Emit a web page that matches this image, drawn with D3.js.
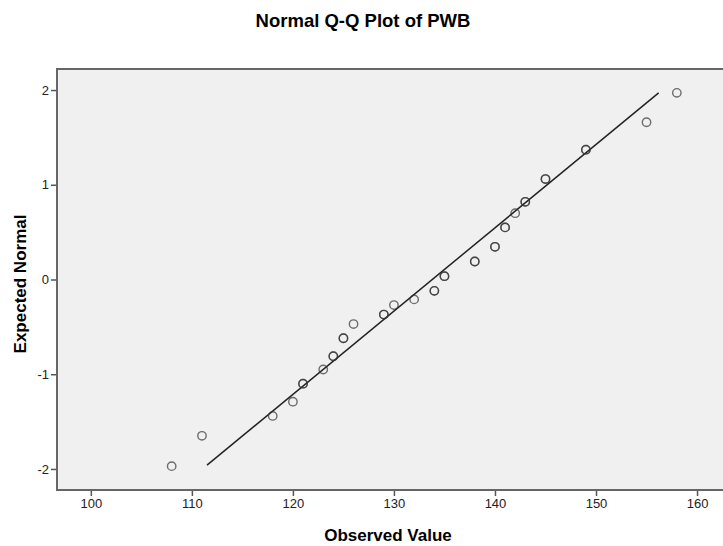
<!DOCTYPE html>
<html>
<head>
<meta charset="utf-8">
<script src="https://cdn.jsdelivr.net/npm/d3@7"></script>
<style>
  body { margin: 0; background: #fff; }
  svg { display: block; font-family: "Liberation Sans", Arial, sans-serif; }
</style>
</head>
<body>
<div id="chart"></div>
<script>
// observed values and expected normal (tied values repeated -> darker circle)
let observed = [108, 111, 118, 120, 121, 121, 123, 124, 124, 125, 125, 126, 129, 129, 130, 132, 134, 134, 135, 135,
    138, 138, 140, 140, 141, 141, 142, 143, 143, 145, 145, 149, 149, 155, 158];
let expected = [-1.97, -1.65, -1.44, -1.29, -1.10, -1.10, -0.95, -0.81, -0.81, -0.62, -0.62, -0.47, -0.37, -0.37, -0.27, -0.21, -0.12, -0.12, 0.035, 0.035,
    0.19, 0.19, 0.345, 0.345, 0.55, 0.55, 0.70, 0.82, 0.82, 1.06, 1.06, 1.37, 1.37, 1.66, 1.97];
// reference line end points (observed, expected)
let refLine = [[111.5, -1.96], [156.2, 1.97]];
let xTicks = [100, 110, 120, 130, 140, 150, 160];
let yTicks = [-2, -1, 0, 1, 2];

let width = 723, height = 546;
let plot = {left: 57, top: 69, right: 723, bottom: 490};

let svg = d3.select('#chart').append('svg')
    .attr('width', width)
    .attr('height', height);

let x = d3.scaleLinear().domain([96.65, 162.57]).range([plot.left, plot.right]);
let y = d3.scaleLinear().domain([-2.222, 2.222]).range([plot.bottom, plot.top]);

// title
svg.append('text')
    .attr('x', 363).attr('y', 27)
    .attr('text-anchor', 'middle')
    .style('font-size', '18.5px').style('font-weight', 'bold')
    .text('Normal Q-Q Plot of PWB');

// plot background
svg.append('rect')
    .attr('x', plot.left).attr('y', plot.top)
    .attr('width', plot.right - plot.left).attr('height', plot.bottom - plot.top)
    .style('fill', '#f0f0f0');

// axes
let xAxis = svg.append('g')
    .attr('transform', `translate(0,${plot.bottom})`)
    .call(d3.axisBottom(x).tickValues(xTicks).tickSize(6).tickPadding(3));
let yAxis = svg.append('g')
    .attr('transform', `translate(${plot.left},0)`)
    .call(d3.axisLeft(y).tickValues(yTicks).tickSize(6).tickPadding(2)
        .tickFormat(d => String(d)));
[xAxis, yAxis].forEach(a => {
    a.select('.domain').remove();
    a.selectAll('line').style('stroke', '#555').style('stroke-width', 1.5);
    a.selectAll('text').style('font-size', '13px').style('fill', '#222')
        .style('font-family', '"Liberation Sans", Arial, sans-serif');
});

// frame: top, left, bottom
svg.append('path')
    .attr('d', `M${plot.right},${plot.top}H${plot.left}V${plot.bottom}H${plot.right}`)
    .style('fill', 'none').style('stroke', '#666').style('stroke-width', 2);

// reference line
svg.append('line')
    .attr('x1', x(refLine[0][0])).attr('y1', y(refLine[0][1]))
    .attr('x2', x(refLine[1][0])).attr('y2', y(refLine[1][1]))
    .style('stroke', '#222').style('stroke-width', 1.5);

// points
svg.append('g').selectAll('circle')
    .data(observed.map((d, i) => [d, expected[i]]))
    .enter()
    .append('circle')
    .attr('cx', d => x(d[0]))
    .attr('cy', d => y(d[1]))
    .attr('r', 4.2)
    .style('fill', 'none')
    .style('stroke', '#333')
    .style('stroke-opacity', 0.7)
    .style('stroke-width', 1.4);

// axis titles
svg.append('text')
    .attr('x', 388).attr('y', 541)
    .attr('text-anchor', 'middle')
    .style('font-size', '17px').style('font-weight', 'bold')
    .text('Observed Value');
svg.append('text')
    .attr('transform', 'translate(26,284) rotate(-90)')
    .attr('text-anchor', 'middle')
    .style('font-size', '17px').style('font-weight', 'bold')
    .text('Expected Normal');
</script>
</body>
</html>
